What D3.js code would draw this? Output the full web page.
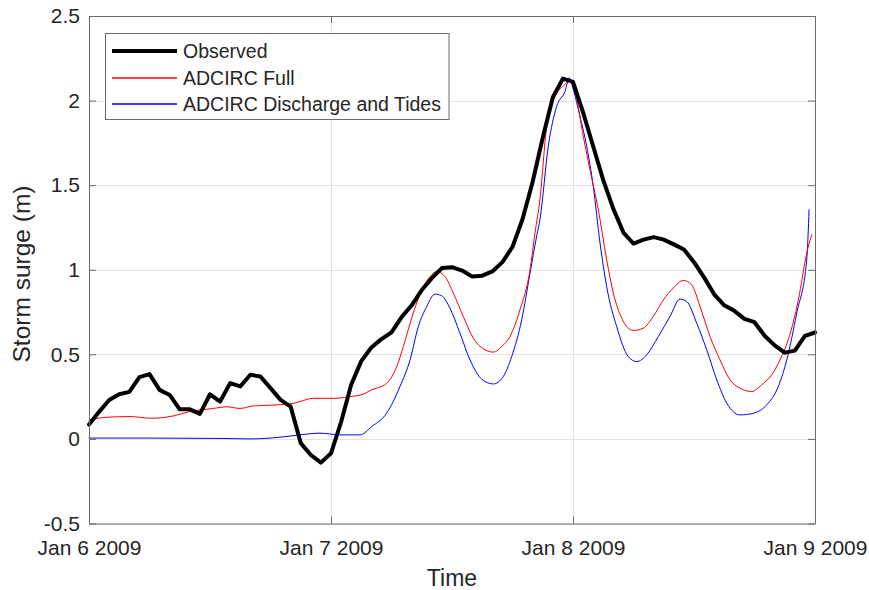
<!DOCTYPE html>
<html>
<head>
<meta charset="utf-8">
<script src="https://cdn.jsdelivr.net/npm/d3@7"></script>
<style>
  html, body { margin: 0; padding: 0; background: #ffffff; }
  svg { display: block; font-family: "Liberation Sans", Arial, Helvetica, sans-serif; }
</style>
</head>
<body>
<svg id="chart" width="869" height="590"></svg>
<script>
// ---------------- DATA ----------------
// Observed: hourly values starting Jan 6 2009 00:00
const observedHours = d3.range(0, 73);
const observedValues = [
  0.085, 0.16, 0.23, 0.264, 0.278, 0.365, 0.383, 0.29, 0.26, 0.175,
  0.175, 0.148, 0.264, 0.221, 0.33, 0.31, 0.379, 0.369, 0.30, 0.231,
  0.191, -0.025, -0.095, -0.14, -0.085, 0.10, 0.32, 0.46, 0.54, 0.59,
  0.63, 0.72, 0.79, 0.88, 0.95, 1.01, 1.015, 0.995, 0.96, 0.965,
  0.99, 1.045, 1.135, 1.30, 1.52, 1.78, 2.02, 2.13, 2.11, 1.93,
  1.73, 1.53, 1.36, 1.22, 1.155, 1.178, 1.193, 1.178, 1.15, 1.12,
  1.045, 0.955, 0.855, 0.79, 0.757, 0.71, 0.69, 0.61, 0.553, 0.51,
  0.522, 0.609, 0.629
];

// ADCIRC Full (hours since Jan 6 00:00, values in m)
const fullHours = [
  0, 1.76, 4.07, 6.22, 8.36, 10.02, 12.33, 13.66, 14.98, 16.3,
  18.28, 20.26, 20.93, 22.25, 24.23, 25.89, 27.2, 27.87, 29.52, 30.52,
  31.17, 32.16, 33.15, 33.99, 34.48, 35.31, 36.13, 37.12, 38.11, 39.27,
  40.1, 40.93, 41.75, 42.74, 43.74, 44.23, 44.73, 45.39, 46.22, 47.21,
  47.7, 48.37, 49.02, 49.68, 50.51, 51.34, 52.0, 52.83, 53.98, 54.97,
  55.96, 56.96, 57.95, 58.94, 59.77, 60.6, 61.59, 62.58, 63.57, 64.56,
  65.72, 66.71, 67.71, 68.53, 69.35, 70.35, 71.18, 71.67
];
const fullValues = [
  0.112, 0.128, 0.132, 0.122, 0.136, 0.162, 0.18, 0.19, 0.18, 0.195,
  0.20, 0.21, 0.221, 0.24, 0.24, 0.25, 0.265, 0.286, 0.329, 0.428,
  0.546, 0.744, 0.90, 0.97, 0.99, 0.96, 0.862, 0.724, 0.596, 0.527,
  0.513, 0.546, 0.605, 0.763, 1.0, 1.217, 1.42, 1.848, 2.025, 2.095,
  2.12, 2.006, 1.789, 1.592, 1.355, 1.059, 0.862, 0.714, 0.641, 0.655,
  0.724, 0.822, 0.892, 0.937, 0.911, 0.783, 0.605, 0.467, 0.349, 0.30,
  0.28, 0.32, 0.379, 0.467, 0.586, 0.822, 1.099, 1.207
];

// ADCIRC Discharge and Tides
const tideHours = [
  0, 6.05, 13.0, 16.0, 18.94, 20.93, 22.91, 24.89, 26.88, 28.04,
  29.52, 30.84, 31.84, 32.66, 33.49, 34.32, 34.98, 35.8, 36.79, 37.79,
  38.95, 40.1, 41.09, 41.92, 42.91, 43.74, 44.4, 44.73, 45.55, 46.38,
  47.21, 47.63, 48.03, 48.69, 49.36, 50.01, 50.68, 51.34, 52.33, 53.48,
  54.32, 55.31, 56.46, 57.62, 58.61, 59.28, 60.27, 61.26, 62.26, 63.25,
  64.57, 65.89, 67.21, 68.36, 69.2, 70.19, 71.18, 71.31, 71.41
];
const tideValues = [
  0.005, 0.005, 0.003, 0.0, 0.01, 0.024, 0.034, 0.024, 0.024, 0.073,
  0.152, 0.31, 0.467, 0.664, 0.783, 0.856, 0.846, 0.773, 0.625, 0.467,
  0.353, 0.325, 0.369, 0.487, 0.704, 0.98, 1.2, 1.3, 1.73, 1.966,
  2.055, 2.134, 2.065, 1.907, 1.73, 1.493, 1.158, 0.90, 0.664, 0.487,
  0.457, 0.497, 0.605, 0.724, 0.826, 0.812, 0.684, 0.527, 0.349, 0.211,
  0.142, 0.152, 0.201, 0.31, 0.467, 0.744, 1.059, 1.2, 1.355
];

const yTicks = [-0.5, 0, 0.5, 1, 1.5, 2, 2.5];
const xTickDays = [6, 7, 8, 9];
const seriesNames = ["Observed", "ADCIRC Full", "ADCIRC Discharge and Tides"];
const seriesColors = ["#000000", "#ff0000", "#0000ff"];
const seriesWidths = [4, 1, 1];
const xLabel = "Time";
const yLabel = "Storm surge (m)";

// ---------------- CHART ----------------
const svg = d3.select("#chart");
const L = 89, R = 815, T = 16, B = 523.5;
const t0 = Date.UTC(2009, 0, 6);
const hourToDate = h => new Date(t0 + h * 3600e3);

const x = d3.scaleUtc()
  .domain([new Date(Date.UTC(2009, 0, 6)), new Date(Date.UTC(2009, 0, 9))])
  .range([L, R]);
const y = d3.scaleLinear().domain([-0.5, 2.5]).range([B, T]);

const xTickDates = xTickDays.map(d => new Date(Date.UTC(2009, 0, d)));
const fmt = d3.utcFormat("%b %-d %Y");

const textColor = "#262626";
const axisColor = "#6b6b6b";

// grid
const grid = svg.append("g");
grid.selectAll("line.gy").data(yTicks).join("line")
  .attr("x1", L).attr("x2", R)
  .attr("y1", d => Math.round(y(d)) + 0.5).attr("y2", d => Math.round(y(d)) + 0.5)
  .attr("stroke", "#e3e3e3").attr("stroke-width", 1);
grid.selectAll("line.gx").data(xTickDates).join("line")
  .attr("x1", d => Math.round(x(d)) + 0.5).attr("x2", d => Math.round(x(d)) + 0.5)
  .attr("y1", T).attr("y2", B)
  .attr("stroke", "#e3e3e3").attr("stroke-width", 1);

// lines
const series = [
  { hours: tideHours, values: tideValues, i: 2, curve: d3.curveMonotoneX },
  { hours: fullHours, values: fullValues, i: 1, curve: d3.curveMonotoneX },
  { hours: observedHours, values: observedValues, i: 0, curve: d3.curveLinear }
];
series.forEach(s => {
  const pts = s.hours.map((h, k) => [h, s.values[k]]);
  const line = d3.line().x(d => x(hourToDate(d[0]))).y(d => y(d[1])).curve(s.curve);
  svg.append("path").datum(pts)
    .attr("d", line)
    .attr("fill", "none")
    .attr("stroke", seriesColors[s.i])
    .attr("stroke-width", seriesWidths[s.i])
    .attr("stroke-linejoin", "round")
    .attr("stroke-linecap", "round");
});

// axes
function styleAxis(g) {
  g.select(".domain").attr("stroke", axisColor);
  g.selectAll(".tick line").attr("stroke", axisColor);
  g.selectAll(".tick text").attr("fill", textColor)
    .attr("font-family", "Liberation Sans, Arial, sans-serif");
}
svg.append("g").attr("transform", `translate(0,${B})`)
  .call(d3.axisBottom(x).tickValues(xTickDates).tickFormat(fmt).tickSize(-7).tickSizeOuter(0).tickPadding(17))
  .call(g => g.attr("font-size", 21))
  .call(styleAxis);
svg.append("g").attr("transform", `translate(0,${T})`)
  .call(d3.axisTop(x).tickValues(xTickDates).tickFormat("").tickSize(-7).tickSizeOuter(0))
  .call(styleAxis);
svg.append("g").attr("transform", `translate(${L},0)`)
  .call(d3.axisLeft(y).tickValues(yTicks).tickFormat(d => String(d)).tickSize(-7).tickSizeOuter(0).tickPadding(9))
  .call(g => g.attr("font-size", 21))
  .call(styleAxis);
svg.append("g").attr("transform", `translate(${R},0)`)
  .call(d3.axisRight(y).tickValues(yTicks).tickFormat("").tickSize(-7).tickSizeOuter(0))
  .call(styleAxis);

// axis labels
svg.append("text")
  .attr("x", (L + R) / 2).attr("y", 586)
  .attr("text-anchor", "middle").attr("font-size", 23).attr("fill", textColor)
  .text(xLabel);
svg.append("text")
  .attr("transform", `translate(30,274) rotate(-90)`)
  .attr("text-anchor", "middle").attr("font-size", 24.5).attr("fill", textColor)
  .text(yLabel);

// legend
const lg = svg.append("g");
lg.append("rect").attr("x", 105.5).attr("y", 33.5).attr("width", 343.5).attr("height", 86)
  .attr("fill", "#ffffff").attr("stroke", axisColor).attr("stroke-width", 1);
const rowsY = [51, 78, 104];
const legendWidths = [4, 1.4, 1.4];
seriesNames.forEach((name, i) => {
  const row = lg.append("g").attr("class", "legend-row");
  row.append("path")
    .attr("d", `M112,${rowsY[i]}H177`)
    .attr("fill", "none")
    .attr("stroke", seriesColors[i])
    .attr("stroke-width", legendWidths[i]);
  row.append("text").attr("x", 183).attr("y", rowsY[i] + 7)
    .attr("font-size", 19.5).attr("fill", textColor).text(name);
});
</script>
</body>
</html>
